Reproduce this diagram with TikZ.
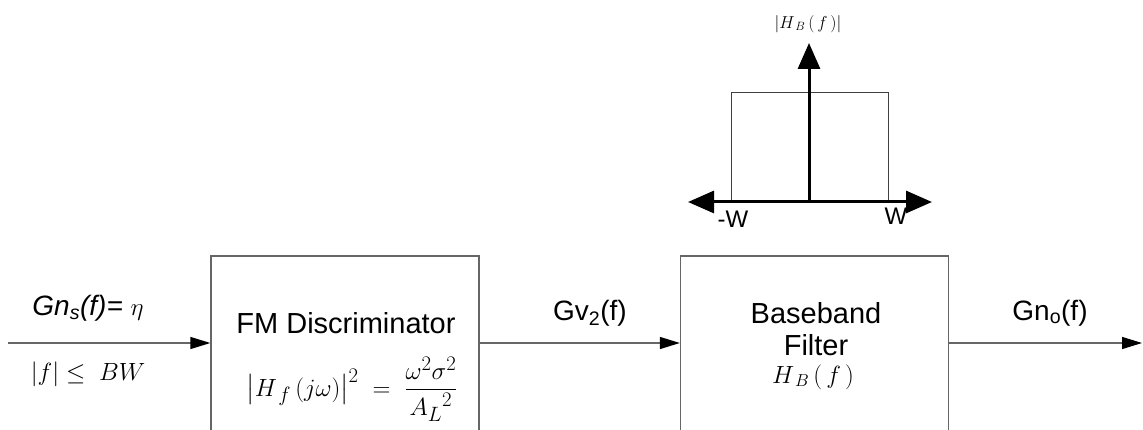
\documentclass[tikz,border=0pt]{standalone}
\usepackage{fontspec}
\setmainfont{Liberation Sans}
\usepackage{amsmath}
\usetikzlibrary{arrows.meta}

\tikzset{
    block/.style={draw=black!60, line width=1.3pt, minimum width=268pt, minimum height=204pt, inner sep=0pt},
    sig/.style={draw=black!60, line width=1.3pt, -{Triangle[length=20pt,width=12pt,color=black]}},
    axis/.style={line width=3pt, {Triangle[length=26pt,width=22pt]}-{Triangle[length=26pt,width=22pt]}},
    lbl/.style={inner sep=0pt, anchor=base, font=\fontsize{28}{32}\selectfont},
    mathlbl/.style={inner sep=0pt, font=\fontsize{24}{28}\selectfont},
    boxtext/.style={inner sep=0pt, align=center, font=\fontsize{29}{32}\selectfont}
}

\begin{document}
\begin{tikzpicture}[x=1pt, y=-1pt]
    \useasboundingbox (0,0) rectangle (1143,430);
    % blocks
    \node[block] (disc) at (345,358) {};
    \node[block] (filt) at (814.5,358) {};
    \coordinate (in) at (8,343);
    \coordinate (out) at (1142,343);
    \draw[sig] (in) -- (disc.west |- in);
    \draw[sig] (disc.east |- in) -- (filt.west |- in);
    \draw[sig] (filt.east |- in) -- (out);
    % labels
    \node[lbl] (gns) at (88,316) {\textit{Gn\textsubscript{s}(f)=} $\eta$};
    \node[mathlbl] (band) at (88,374) {$|f|\leq\ BW$};
    \node[boxtext, anchor=base, text depth=0pt] (discname) at (346,333) {FM Discriminator};
    \node[mathlbl, font=\fontsize{29}{32}\selectfont] (discfn) at (352,389)
        {$\left|H_{\,f}\,(j\omega)\right|^2 \;=\; \dfrac{\omega^2\sigma^2}{{A_L}^2}$};
    \node[lbl] (gv) at (590,320) {Gv\textsubscript{2}(f)};
    \node[boxtext, anchor=base] (filtname) at (816,355) {Baseband\\Filter};
    \node[mathlbl] (filtfn) at (813,377) {$H_{\,B}\,(\,f\,)$};
    \node[lbl] (gno) at (1050,320) {Gn\textsubscript{o}(f)};
    % spectrum of the filter
    \coordinate (o) at (809,202);
    \coordinate (fl) at (688,202);
    \coordinate (fr) at (932,202);
    \coordinate (ft) at (809,43);
    \draw[black!75, line width=1pt] (731,202) rectangle (888,93);
    \draw[axis] (fl) -- (fr);
    \draw[line width=3pt, -{Triangle[length=26pt,width=22pt]}] (o) -- (ft);
    \node[mathlbl, font=\fontsize{18}{20}\selectfont] (hb) at (808,24) {$\left|H_{\,B}\,(\,f\,)\right|$};
    \node[mathlbl, font=\fontsize{24}{26}\selectfont] (mw) at (733,219) {-W};
    \node[mathlbl, font=\fontsize{24}{26}\selectfont] (pw) at (896,216) {W};
\end{tikzpicture}
\end{document}
